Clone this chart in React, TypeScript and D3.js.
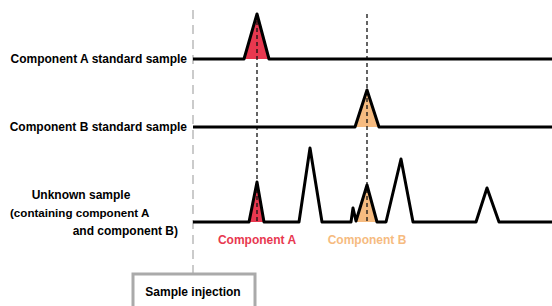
import React from "react";
import * as d3 from "d3";

// Retention-time axis (arbitrary units) and signal units
const traceNames = ["Component A standard sample", "Component B standard sample", "Unknown sample"];
const traceA: [number, number][] = [[0, 0], [51, 0], [64, 45], [76, 0], [359, 0]];
const traceB: [number, number][] = [[0, 0], [162, 0], [174, 37], [186, 0], [359, 0]];
const traceU: [number, number][] = [
  [0, 0], [56, 0], [64, 40], [71, 0], [106, 0], [117, 74], [129, 0], [158, 0], [160, 14], [163, 1],
  [174, 37], [184, 0], [193, 0], [208, 63], [220, 0], [283, 0], [294, 34], [306, 0], [359, 0],
];
const peakAStd: [number, number][] = [[51, 0], [64, 45], [76, 0]];
const peakBStd: [number, number][] = [[162, 0], [174, 37], [186, 0]];
const peakAU: [number, number][] = [[56, 0], [64, 40], [71, 0]];
const peakBU: [number, number][] = [[163, 1], [174, 37], [184, 0]];
const retentionA = 64;
const retentionB = 174;
const unknownLines = ["(containing component A", "and component B)"];
const peakLabels = ["Component A", "Component B"];

const W = 552, H = 306;
const baselines = [59, 127, 222];

export default function App() {
  const x = d3.scaleLinear().domain([0, 359]).range([193, 552]);
  const ys = baselines.map((b) => d3.scaleLinear().domain([0, 80]).range([b, b - 80]));
  const line = (yS: d3.ScaleLinear<number, number>) =>
    d3.line<[number, number]>().x((d) => x(d[0])).y((d) => yS(d[1]));
  const area = (yS: d3.ScaleLinear<number, number>) =>
    d3.area<[number, number]>().x((d) => x(d[0])).y0(yS(0)).y1((d) => yS(d[1]));
  const red = "#e8384f";
  const peach = "#f6bb80";
  const font = "'Liberation Sans', Arial, sans-serif";
  return (
    <svg width={W} height={H} style={{ position: "absolute", left: 0, top: 0, background: "#fff" }}
      fontFamily={font} fontWeight="bold">
      <path d={area(ys[0])(peakAStd)!} fill={red} />
      <path d={area(ys[1])(peakBStd)!} fill={peach} />
      <path d={area(ys[2])(peakAU)!} fill={red} />
      <path d={area(ys[2])(peakBU)!} fill={peach} />
      {/* injection line */}
      <line x1={x(0)} x2={x(0)} y1={10} y2={274} stroke="#bbb" strokeWidth={1.5} strokeDasharray="9,6" />
      {[retentionA, retentionB].map((r, i) => (
        <line key={i} x1={x(r)} x2={x(r)} y1={14} y2={222} stroke="#111" strokeWidth={1.3} strokeDasharray="4,3" />
      ))}
      {[traceA, traceB, traceU].map((t, i) => (
        <path key={i} d={line(ys[i])(t)!} fill="none" stroke="#000" strokeWidth={3} strokeLinejoin="round" />
      ))}
      <text x={187} y={63} fontSize={12} textAnchor="end">{traceNames[0]}</text>
      <text x={187} y={131} fontSize={12} textAnchor="end">{traceNames[1]}</text>
      <text x={81} y={199} fontSize={12} textAnchor="middle">{traceNames[2]}</text>
      <text x={10} y={217} fontSize={11.6}>{unknownLines[0]}</text>
      <text x={178} y={235} fontSize={12} textAnchor="end">{unknownLines[1]}</text>
      <text x={x(retentionA)} y={244} fontSize={12} textAnchor="middle" fill={red}>{peakLabels[0]}</text>
      <text x={x(retentionB)} y={244} fontSize={12} textAnchor="middle" fill={peach}>{peakLabels[1]}</text>
      <rect x={133} y={274} width={122} height={40} fill="#fff" stroke="#aaa" strokeWidth={3} />
      <text x={193} y={296} fontSize={12} textAnchor="middle">Sample injection</text>
    </svg>
  );
}
